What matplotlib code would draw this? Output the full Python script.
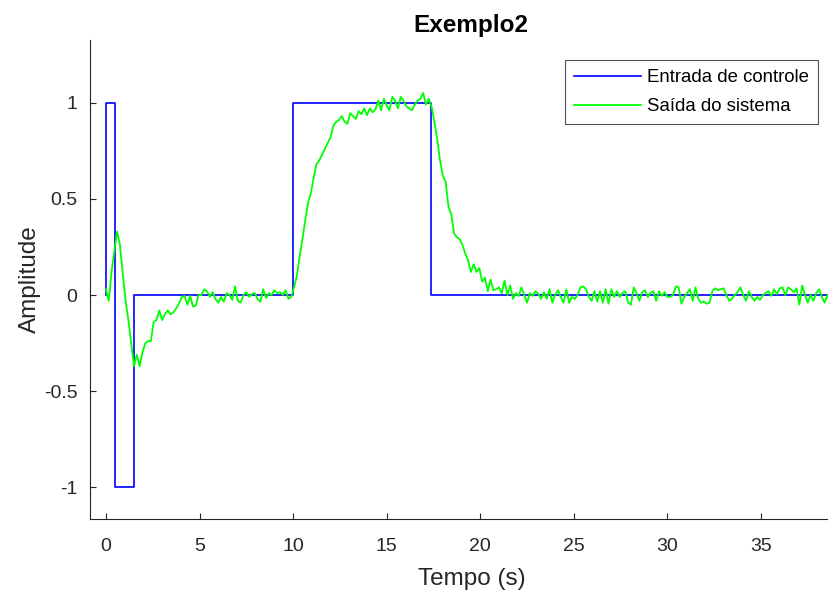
import numpy as np
import matplotlib
matplotlib.use("Agg")
import matplotlib.pyplot as plt

plt.rcParams['font.family'] = ['Liberation Sans', 'DejaVu Sans']

# Control input (step changes)
t_input = [0, 0, 0.5, 1.5, 10, 17.35, 40]
u_input = [0, 1, -1, 0, 1, 0, 0]

# System output sampled every 0.15 s
dt_out = 0.15
y_output = [
    0.03, -0.03, 0.12, 0.23, 0.33, 0.26, 0.11, -0.03, -0.13, -0.25,
    -0.37, -0.31, -0.37, -0.30, -0.25, -0.24, -0.24, -0.14, -0.13, -0.08,
    -0.13, -0.10, -0.08, -0.10, -0.09, -0.07, -0.045, -0.01, -0.005, -0.05,
    -0.005, -0.06, -0.055, 0.0,
    0.00, 0.03, 0.02, -0.01, 0.015, -0.02, -0.04, -0.01, -0.035, 0.01,
    0.0, -0.025, 0.045, -0.03, -0.04, 0.0, 0.015, -0.01, 0.005, 0.01,
    -0.02, -0.035, 0.03, -0.015, 0.01, 0.0, 0.025, 0.01, 0.015, 0.0,
    0.025, -0.02, -0.01,
    0.04, 0.10, 0.20, 0.29, 0.39, 0.48, 0.53, 0.61, 0.68, 0.70,
    0.73, 0.76, 0.79, 0.82, 0.88, 0.90, 0.91, 0.93, 0.90, 0.89,
    0.945, 0.93, 0.915, 0.955, 0.94, 0.97, 0.935, 0.97, 0.95, 0.965,
    1.01, 0.96, 1.02, 0.985, 0.96, 1.03, 1.01, 0.97, 1.03, 1.01,
    0.98, 0.97, 0.96, 0.99, 1.01, 1.02, 1.05, 0.99, 1.02, 0.98,
    0.90, 0.81, 0.70, 0.62, 0.59, 0.46, 0.42, 0.32, 0.30, 0.29,
    0.26, 0.215, 0.18, 0.12, 0.16, 0.12, 0.14, 0.07, 0.09, 0.02,
    0.08, 0.025, 0.03, 0.04, 0.01, 0.075, 0.0, 0.05, -0.02, 0.01,
    -0.005, 0.04, 0.0, -0.04, 0.01, -0.005, 0.02, 0.005, -0.02, 0.015,
    -0.02, 0.03, -0.04, 0.0, 0.025, -0.01, -0.04, 0.03, -0.04, -0.01,
    -0.02, 0.0, 0.04, 0.045, 0.03, -0.01, -0.03, 0.02, -0.035, 0.02,
    -0.04, 0.03, -0.045, 0.03, -0.01, 0.02, -0.01, 0.01, 0.02, -0.04,
    -0.05, 0.04, 0.01, -0.03, 0.015, 0.025, -0.01, 0.01, 0.02, -0.03,
    0.02, -0.005, 0.015, -0.01, -0.01, 0.0, 0.045, 0.04, -0.045, -0.01,
    0.01, 0.03, -0.03, 0.04, -0.02, -0.04, -0.035, -0.045, -0.04, 0.02,
    0.035, 0.025, 0.03, 0.035, 0.0, -0.03, -0.02, 0.0, 0.015, 0.04,
    0.0, -0.03, 0.02, -0.01, -0.03, -0.01, -0.025, 0.0, 0.01, 0.02,
    -0.005, 0.03, 0.005, 0.035, 0.04, 0.0, 0.04, 0.03, 0.015, 0.035,
    -0.05, 0.05, 0.0, -0.04, 0.0, -0.03, 0.01, 0.03, -0.01, -0.04,
    0.0, -0.03, 0.01,
]
t_output = np.arange(len(y_output)) * dt_out

x_ticks = [0, 5, 10, 15, 20, 25, 30, 35]
y_ticks = [-1, -0.5, 0, 0.5, 1]
y_ticklabels = ['-1', '-0.5', '0', '0.5', '1']

fig = plt.figure(figsize=(8.29, 5.92), dpi=100)
ax = fig.add_axes([0.1086, 0.1233, 0.920, 0.809])

ax.plot(t_input, u_input, drawstyle='steps-post', color=(0, 0, 1), lw=1.2,
        label='Entrada de controle')
ax.plot(t_output, y_output, color=(0, 1, 0), lw=1.3, label='Saída do sistema')

ax.set_xlim(-0.85, 39.9)
ax.set_ylim(-1.164, 1.325)
ax.set_xticks(x_ticks)
ax.set_xticklabels([str(v) for v in x_ticks])
ax.set_yticks(y_ticks)
ax.set_yticklabels(y_ticklabels)

dark = (0.15, 0.15, 0.15)
for s in ['top', 'right']:
    ax.spines[s].set_visible(False)
for s in ['left', 'bottom']:
    ax.spines[s].set_color(dark)
    ax.spines[s].set_linewidth(0.8)
ax.tick_params(direction='in', length=4, width=0.8, colors=dark,
               labelsize=14)
ax.tick_params(axis='x', pad=14)
ax.tick_params(axis='y', pad=9)

ax.set_xlabel('Tempo (s)', fontsize=17.5, color=dark, labelpad=9)
ax.set_ylabel('Amplitude', fontsize=17.5, color=dark, labelpad=2)
ax.set_title('Exemplo2', fontsize=17.5, fontweight='bold', color='black', pad=6)

leg = ax.legend(loc='upper right', bbox_to_anchor=(0.955, 0.958),
                fontsize=13.4, handlelength=3.6, frameon=True, fancybox=False,
                borderpad=0.48, labelspacing=0.64, handletextpad=0.35,
                borderaxespad=0)
leg.get_frame().set_edgecolor(dark)
leg.get_frame().set_linewidth(0.8)

fig.savefig('out.png', dpi=100)
